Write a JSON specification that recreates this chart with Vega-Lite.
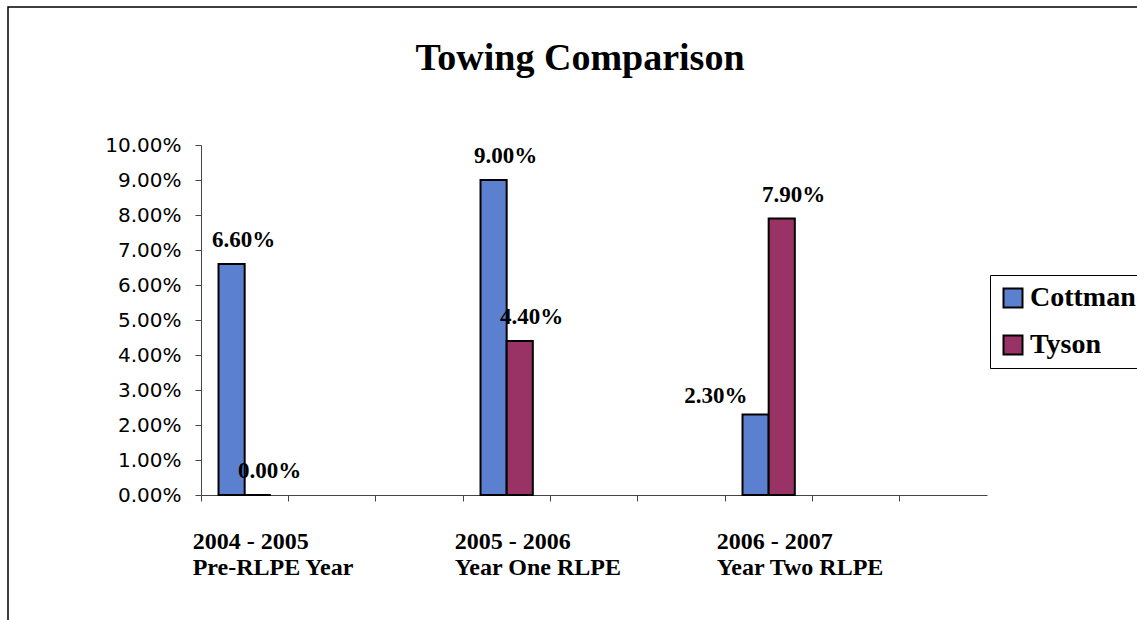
{
  "$schema": "https://vega.github.io/schema/vega-lite/v6.json",
  "width": 1132,
  "height": 615,
  "autosize": {"type": "none"},
  "padding": {"left": 8, "top": 7, "right": -3, "bottom": -2},
  "background": "white",
  "title": {
    "text": "Towing Comparison",
    "font": "Liberation Serif",
    "fontSize": 38,
    "fontWeight": "bold",
    "color": "#000",
    "anchor": "middle",
    "baseline": "alphabetic",
    "offset": 0,
    "dy": 101,
    "dx": 6
  },
  "config": {"view": {"stroke": "#000", "strokeWidth": 1.5}},
  "data": {
    "values": [
      {"period": "2004 - 2005|Pre-RLPE Year", "series": "Cottman", "value": 0.066},
      {"period": "2004 - 2005|Pre-RLPE Year", "series": "Tyson", "value": 0.0},
      {"period": "2005 - 2006|Year One RLPE", "series": "Cottman", "value": 0.09},
      {"period": "2005 - 2006|Year One RLPE", "series": "Tyson", "value": 0.044},
      {"period": "2006 - 2007|Year Two RLPE", "series": "Cottman", "value": 0.023},
      {"period": "2006 - 2007|Year Two RLPE", "series": "Tyson", "value": 0.079}
    ]
  },
  "encoding": {
    "x": {
      "field": "period",
      "type": "nominal",
      "sort": null,
      "scale": {
        "domain": ["2004 - 2005|Pre-RLPE Year", "_b", "_c", "2005 - 2006|Year One RLPE", "_e", "_f", "2006 - 2007|Year Two RLPE", "_h", "_i"],
        "range": [193, 979],
        "paddingInner": 0,
        "paddingOuter": 0
      },
      "axis": {
        "orient": "bottom",
        "offset": -127,
        "title": null,
        "grid": false,
        "bandPosition": 0,
        "labelExpr": "indexof(datum.value, '|') >= 0 ? split(datum.value, '|') : ''",
        "labelAlign": "left",
        "labelBaseline": "top",
        "labelAngle": 0,
        "labelFont": "Liberation Serif",
        "labelFontSize": 24,
        "labelFontWeight": "bold",
        "labelColor": "#000",
        "labelPadding": 28,
        "labelOffset": -52,
        "tickSize": 6,
        "tickColor": "#444",
        "domainColor": "#444",
        "domainWidth": 1
      }
    },
    "xOffset": {
      "field": "series",
      "type": "nominal",
      "scale": {"domain": ["Cottman", "Tyson"], "paddingInner": 0, "paddingOuter": 0.67}
    },
    "y": {
      "field": "value",
      "type": "quantitative",
      "scale": {"domain": [0, 0.1], "range": [488, 138], "nice": false},
      "axis": {
        "values": [0, 0.01, 0.02, 0.03, 0.04, 0.05, 0.06, 0.07, 0.08, 0.09, 0.1],
        "format": ".2%",
        "offset": -193,
        "title": null,
        "grid": false,
        "tickSize": 6,
        "tickColor": "#444",
        "domainColor": "#444",
        "domainWidth": 1,
        "labelFont": "DejaVu Sans",
        "labelFontSize": 20,
        "labelColor": "#000",
        "labelPadding": 14
      }
    }
  },
  "layer": [
    {
      "mark": {"type": "bar", "stroke": "#000", "strokeWidth": 2},
      "encoding": {
        "color": {
          "field": "series",
          "type": "nominal",
          "scale": {"domain": ["Cottman", "Tyson"], "range": ["#5B80CF", "#993366"]},
          "legend": {
            "orient": "none",
            "legendX": 982,
            "legendY": 268,
            "title": null,
            "fillColor": "#fff",
            "strokeColor": "#000",
            "padding": 9,
            "symbolType": "square",
            "symbolSize": 361,
            "symbolStrokeColor": "#000",
            "symbolStrokeWidth": 2,
            "symbolOpacity": 1,
            "labelFont": "Liberation Serif",
            "labelFontSize": 28,
            "labelFontWeight": "bold",
            "labelColor": "#000",
            "labelOffset": 3,
            "rowPadding": 19
          }
        }
      }
    },
    {
      "transform": [{"filter": "!(datum.series === 'Cottman' && datum.period === '2006 - 2007|Year Two RLPE')"}],
      "mark": {"type": "text", "font": "Liberation Serif", "fontSize": 23, "fontWeight": "bold", "align": "center", "baseline": "alphabetic", "dx": 12, "dy": -17, "color": "#000"},
      "encoding": {"text": {"field": "value", "type": "quantitative", "format": ".2%"}}
    },
    {
      "transform": [{"filter": "datum.series === 'Cottman' && datum.period === '2006 - 2007|Year Two RLPE'"}],
      "mark": {"type": "text", "font": "Liberation Serif", "fontSize": 23, "fontWeight": "bold", "align": "right", "baseline": "alphabetic", "dx": -8, "dy": -12, "color": "#000"},
      "encoding": {"text": {"field": "value", "type": "quantitative", "format": ".2%"}}
    }
  ]
}
